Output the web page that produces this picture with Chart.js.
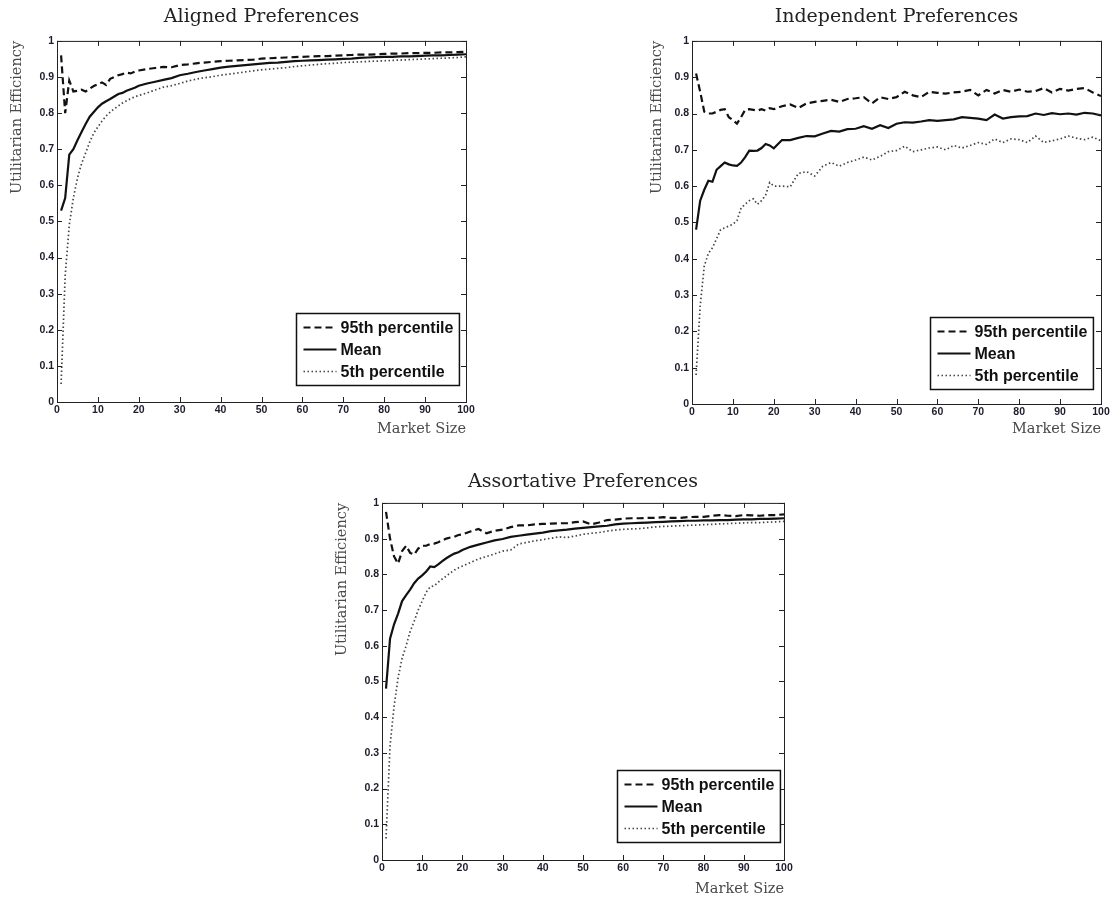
<!DOCTYPE html>
<html>
<head>
<meta charset="utf-8">
<script src="https://cdn.jsdelivr.net/npm/chart.js@4.4.1/dist/chart.umd.min.js"></script>
<style>
  body { margin: 0; background: #fff; width: 1114px; height: 901px; position: relative; overflow: hidden; }
  canvas { position: absolute; }
</style>
</head>
<body>
<canvas id="alignedChart" width="480" height="445" style="left:0;top:0"></canvas>
<canvas id="independentChart" width="484" height="445" style="left:630px;top:0"></canvas>
<canvas id="assortativeChart" width="470" height="441" style="left:330px;top:460px"></canvas>
<script>
// market sizes where the simulation was evaluated
const marketSize = [1, 2, 3, 4, 5, 6, 7, 8, 9, 10, 11, 12, 13, 14, 15, 16, 17, 18, 19, 20,
  22, 24, 26, 28, 30, 32, 34, 36, 38, 40, 42, 44, 46, 48, 50, 52, 54, 56, 58, 60,
  62, 64, 66, 68, 70, 72, 74, 76, 78, 80, 82, 84, 86, 88, 90, 92, 94, 96, 98, 100];

const seriesLabels = ['95th percentile', 'Mean', '5th percentile'];

// Aligned preferences
const alignedP95 = [0.96, 0.80, 0.89, 0.86, 0.862, 0.865, 0.86, 0.868, 0.875, 0.88, 0.885, 0.878, 0.895, 0.90, 0.905, 0.908, 0.912, 0.91, 0.915, 0.918,
  0.922, 0.925, 0.928, 0.927, 0.933, 0.935, 0.938, 0.94, 0.942, 0.944, 0.945, 0.946, 0.947, 0.948, 0.951, 0.952, 0.953, 0.954, 0.955, 0.956,
  0.957, 0.958, 0.958, 0.959, 0.96, 0.961, 0.962, 0.962, 0.963, 0.964, 0.965, 0.965, 0.966, 0.966, 0.967, 0.967, 0.968, 0.968, 0.969, 0.97];
const alignedMean = [0.53, 0.565, 0.685, 0.70, 0.725, 0.748, 0.77, 0.79, 0.803, 0.816, 0.826, 0.833, 0.839, 0.846, 0.853, 0.856, 0.862, 0.866, 0.87, 0.876,
  0.882, 0.887, 0.892, 0.897, 0.905, 0.909, 0.914, 0.918, 0.922, 0.926, 0.929, 0.931, 0.933, 0.935, 0.937, 0.939, 0.94, 0.942, 0.944, 0.945,
  0.946, 0.947, 0.948, 0.949, 0.95, 0.951, 0.953, 0.954, 0.955, 0.956, 0.956, 0.957, 0.957, 0.958, 0.959, 0.96, 0.96, 0.961, 0.962, 0.963];
const alignedP5 = [0.05, 0.35, 0.49, 0.565, 0.62, 0.66, 0.69, 0.72, 0.745, 0.762, 0.778, 0.792, 0.803, 0.812, 0.82, 0.828, 0.834, 0.84, 0.845, 0.849,
  0.856, 0.864, 0.872, 0.876, 0.882, 0.889, 0.894, 0.898, 0.901, 0.905, 0.908, 0.911, 0.914, 0.917, 0.92, 0.922, 0.924, 0.926, 0.929, 0.931,
  0.933, 0.935, 0.937, 0.938, 0.94, 0.941, 0.942, 0.943, 0.944, 0.945, 0.946, 0.947, 0.948, 0.949, 0.95, 0.951, 0.952, 0.953, 0.954, 0.956];

// Independent preferences
const independentP95 = [0.91, 0.86, 0.805, 0.80, 0.80, 0.805, 0.81, 0.812, 0.79, 0.782, 0.772, 0.79, 0.81, 0.812, 0.81, 0.808, 0.812, 0.808, 0.815, 0.812,
  0.82, 0.825, 0.815, 0.828, 0.832, 0.835, 0.838, 0.832, 0.84, 0.842, 0.845, 0.828, 0.845, 0.84, 0.845, 0.86, 0.85, 0.845, 0.86, 0.857,
  0.855, 0.858, 0.86, 0.865, 0.85, 0.865, 0.855, 0.865, 0.86, 0.866, 0.86, 0.862, 0.87, 0.858, 0.868, 0.863, 0.868, 0.87, 0.858, 0.848];
const independentMean = [0.48, 0.56, 0.59, 0.615, 0.612, 0.645, 0.655, 0.665, 0.66, 0.657, 0.656, 0.665, 0.68, 0.698, 0.697, 0.698, 0.705, 0.716, 0.712, 0.704,
  0.727, 0.727, 0.733, 0.738, 0.737, 0.745, 0.752, 0.75, 0.757, 0.758, 0.765, 0.758, 0.768, 0.76, 0.772, 0.776, 0.775, 0.778, 0.782, 0.78,
  0.782, 0.784, 0.79, 0.788, 0.786, 0.782, 0.797, 0.786, 0.79, 0.792, 0.793, 0.80, 0.796, 0.801, 0.798, 0.80, 0.797, 0.802, 0.80, 0.795];
const independentP5 = [0.08, 0.27, 0.38, 0.415, 0.43, 0.455, 0.48, 0.485, 0.49, 0.495, 0.505, 0.54, 0.55, 0.56, 0.565, 0.55, 0.56, 0.575, 0.61, 0.60,
  0.60, 0.598, 0.635, 0.64, 0.628, 0.655, 0.665, 0.655, 0.665, 0.672, 0.68, 0.672, 0.682, 0.695, 0.698, 0.71, 0.695, 0.70, 0.705, 0.708,
  0.70, 0.712, 0.705, 0.712, 0.72, 0.715, 0.73, 0.72, 0.73, 0.728, 0.72, 0.738, 0.72, 0.725, 0.73, 0.738, 0.732, 0.728, 0.735, 0.725];

// Assortative preferences
const assortativeP95 = [0.975, 0.90, 0.85, 0.83, 0.865, 0.88, 0.86, 0.855, 0.872, 0.88, 0.88, 0.885, 0.886, 0.89, 0.895, 0.90, 0.903, 0.905, 0.91, 0.912,
  0.92, 0.927, 0.915, 0.922, 0.925, 0.932, 0.937, 0.937, 0.94, 0.941, 0.942, 0.943, 0.943, 0.946, 0.948, 0.94, 0.945, 0.952, 0.953, 0.956,
  0.957, 0.957, 0.958, 0.958, 0.96, 0.958, 0.958, 0.96, 0.961, 0.961, 0.964, 0.966, 0.964, 0.963, 0.966, 0.965, 0.964, 0.966, 0.966, 0.968];
const assortativeMean = [0.48, 0.62, 0.66, 0.69, 0.725, 0.742, 0.757, 0.775, 0.788, 0.797, 0.808, 0.822, 0.82, 0.828, 0.837, 0.845, 0.852, 0.858, 0.862, 0.868,
  0.877, 0.883, 0.889, 0.895, 0.899, 0.905, 0.908, 0.911, 0.914, 0.917, 0.921, 0.923, 0.925, 0.928, 0.93, 0.932, 0.934, 0.936, 0.94, 0.942,
  0.943, 0.944, 0.945, 0.946, 0.947, 0.948, 0.949, 0.95, 0.95, 0.951, 0.951, 0.952, 0.952, 0.953, 0.954, 0.954, 0.955, 0.955, 0.956, 0.957];
const assortativeP5 = [0.06, 0.32, 0.43, 0.51, 0.565, 0.60, 0.64, 0.668, 0.70, 0.725, 0.75, 0.765, 0.768, 0.778, 0.787, 0.795, 0.804, 0.812, 0.818, 0.823,
  0.833, 0.843, 0.85, 0.857, 0.865, 0.868, 0.885, 0.889, 0.894, 0.897, 0.901, 0.905, 0.903, 0.907, 0.912, 0.915, 0.917, 0.921, 0.924, 0.926,
  0.927, 0.928, 0.93, 0.933, 0.934, 0.935, 0.936, 0.937, 0.938, 0.939, 0.94, 0.941, 0.942, 0.943, 0.944, 0.945, 0.945, 0.946, 0.947, 0.948];

// box around the plot plus matlab style inward tick marks
const frameTicks = {
  id: 'frameTicks',
  afterDraw(chart) {
    const { ctx, chartArea: a, scales: { x, y } } = chart;
    ctx.save();
    ctx.strokeStyle = '#222';
    ctx.lineWidth = 1;
    ctx.strokeRect(a.left + 0.5, a.top + 0.5, a.right - a.left, a.bottom - a.top);
    ctx.beginPath();
    x.ticks.forEach(t => {
      const px = Math.round(x.getPixelForValue(t.value)) + 0.5;
      ctx.moveTo(px, a.bottom); ctx.lineTo(px, a.bottom - 5);
      ctx.moveTo(px, a.top); ctx.lineTo(px, a.top + 5);
    });
    y.ticks.forEach(t => {
      const py = Math.round(y.getPixelForValue(t.value)) + 0.5;
      ctx.moveTo(a.left, py); ctx.lineTo(a.left + 5, py);
      ctx.moveTo(a.right, py); ctx.lineTo(a.right - 5, py);
    });
    ctx.stroke();
    ctx.restore();
  }
};

// legend box sitting inside the lower right corner of the plot
const boxLegend = {
  id: 'boxLegend',
  afterDraw(chart, args, opts) {
    const { ctx, chartArea } = chart;
    const items = chart.data.datasets;
    ctx.save();
    ctx.font = 'bold 16px "Liberation Sans", Arial, sans-serif';
    const textW = Math.max(...items.map(d => ctx.measureText(d.label).width));
    const rowH = 22, sample = 33;
    const w = 7 + sample + 4 + textW + 6;
    const h = rowH * items.length + 6;
    const x = Math.round(chartArea.right - opts.right - w) + 0.5;
    const y = Math.round(chartArea.bottom - opts.bottom - h) + 0.5;
    ctx.fillStyle = '#fff';
    ctx.fillRect(x, y, w, h);
    ctx.strokeStyle = '#111';
    ctx.lineWidth = 1.5;
    ctx.strokeRect(x, y, w, h);
    items.forEach((d, i) => {
      const cy = y + 3 + rowH * i + rowH / 2;
      ctx.beginPath();
      ctx.setLineDash(d.borderDash || []);
      ctx.lineWidth = d.borderWidth;
      ctx.strokeStyle = d.borderColor;
      ctx.moveTo(x + 7, cy);
      ctx.lineTo(x + 7 + sample, cy);
      ctx.stroke();
      ctx.setLineDash([]);
      ctx.fillStyle = '#111';
      ctx.textBaseline = 'middle';
      ctx.fillText(d.label, x + 7 + sample + 4, cy + 1);
    });
    ctx.restore();
  }
};

function toPoints(values) {
  return marketSize.map((m, i) => ({ x: m, y: values[i] }));
}

const tickFont = { family: 'Liberation Sans', size: 10.5, weight: 'bold' };

function makeChart(id, title, p95, mean, p5, lay) {
  return new Chart(document.getElementById(id), {
    type: 'line',
    data: {
      datasets: [
        { label: seriesLabels[0], data: toPoints(p95), borderColor: '#111', borderWidth: 2.2, borderDash: [7, 4] },
        { label: seriesLabels[1], data: toPoints(mean), borderColor: '#111', borderWidth: 2.2 },
        { label: seriesLabels[2], data: toPoints(p5), borderColor: '#444', borderWidth: 1.7, borderDash: [1.5, 2.5] }
      ]
    },
    options: {
      responsive: false,
      animation: false,
      elements: { point: { radius: 0 }, line: { tension: 0 } },
      layout: { padding: { left: 0, right: lay.right, top: 0, bottom: 0 } },
      scales: {
        x: {
          type: 'linear', min: 0, max: 100,
          ticks: { stepSize: 10, padding: 2, color: '#1c1c2c', font: tickFont },
          grid: { display: false, drawTicks: false },
          border: { display: false },
          title: { display: true, text: 'Market Size', align: 'end', color: '#4a4a4a',
            font: { family: 'DejaVu Serif', size: 14.5 }, padding: { top: 0, bottom: lay.xTitleBottom } },
          afterFit: s => { s.height = lay.xHeight; }
        },
        y: {
          min: 0, max: 1,
          ticks: { stepSize: 0.1, padding: 3, color: '#1c1c2c', font: tickFont,
            callback: v => String(Number(v.toFixed(1))) },
          grid: { display: false, drawTicks: false },
          border: { display: false },
          title: { display: true, text: 'Utilitarian Efficiency', align: 'end', color: '#4a4a4a',
            font: { family: 'DejaVu Serif', size: 14.5 }, padding: { top: lay.yTitleLeft, bottom: 0 } },
          afterFit: s => { s.width = lay.yWidth; }
        }
      },
      plugins: {
        legend: { display: false },
        tooltip: { enabled: false },
        title: { display: true, text: title, fullSize: false, color: '#222',
          font: { family: 'DejaVu Serif', size: 19, weight: 'normal', lineHeight: 1.1 },
          padding: { top: lay.titleTop, bottom: lay.titleBottom } },
        boxLegend: { right: lay.legendRight, bottom: lay.legendBottom }
      }
    },
    plugins: [frameTicks, boxLegend]
  });
}

makeChart('alignedChart', 'Aligned Preferences', alignedP95, alignedMean, alignedP5,
  { right: 14, xHeight: 43, yWidth: 57, xTitleBottom: 7, yTitleLeft: 9, titleTop: 7, titleBottom: 13, legendRight: 7, legendBottom: 17 });
makeChart('independentChart', 'Independent Preferences', independentP95, independentMean, independentP5,
  { right: 13, xHeight: 41, yWidth: 62, xTitleBottom: 7, yTitleLeft: 19, titleTop: 7, titleBottom: 13, legendRight: 8, legendBottom: 15 });
makeChart('assortativeChart', 'Assortative Preferences', assortativeP95, assortativeMean, assortativeP5,
  { right: 16, xHeight: 41, yWidth: 52, xTitleBottom: 3, yTitleLeft: 4, titleTop: 12, titleBottom: 10, legendRight: 4, legendBottom: 18 });
</script>
</body>
</html>
